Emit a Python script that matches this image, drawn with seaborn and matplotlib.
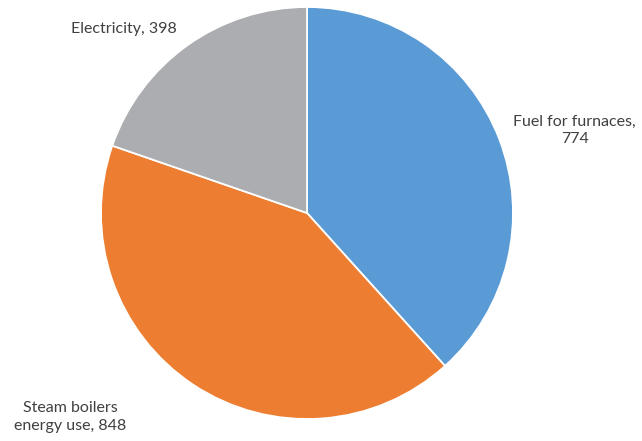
import matplotlib
matplotlib.use("Agg")
import matplotlib.pyplot as plt
import seaborn as sns

categories = ["Fuel for furnaces", "Steam boilers\nenergy use", "Electricity"]
values = [774, 848, 398]
colors = ["#5B9BD5", "#ED7D31", "#ACADB1"]
label_texts = ["Fuel for furnaces,\n774", "Steam boilers\nenergy use, 848", "Electricity, 398"]
label_pos = [(1.30, 0.40), (-1.15, -0.99), (-0.89, 0.895)]

sns.set_theme(style="white", palette=colors)
plt.rcParams["font.family"] = ["Lato", "DejaVu Sans"]

fig = plt.figure(figsize=(6.42, 4.41), dpi=100)
r_px = 206
cx, cy = 307, 213
ax = fig.add_axes([(cx - r_px) / 642, (441 - cy - r_px) / 441, 2 * r_px / 642, 2 * r_px / 441])
ax.pie(values, colors=sns.color_palette(colors), startangle=90, counterclock=False,
       radius=1.0, wedgeprops=dict(edgecolor="white", linewidth=1.3))
for txt, (x, y) in zip(label_texts, label_pos):
    ax.text(x, y, txt, ha="center", va="center", fontsize=11.5, color="#404040",
            linespacing=1.3)
ax.set_xlim(-1, 1)
ax.set_ylim(-1, 1)
ax.set_aspect("equal")
ax.axis("off")
fig.savefig("out.png", dpi=100)
